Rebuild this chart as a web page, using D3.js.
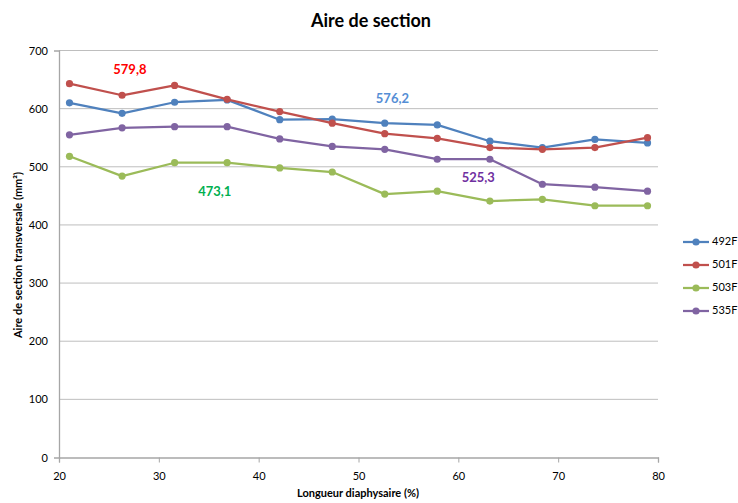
<!DOCTYPE html>
<html><head><meta charset="utf-8">
<script src="https://cdn.jsdelivr.net/npm/d3@7/dist/d3.min.js"></script>
<style>body{margin:0;background:#fff;} text{font-family:Lato,"Open Sans",sans-serif;}</style>
</head><body>
<script>
const xValues = [21.05, 26.32, 31.58, 36.84, 42.11, 47.37, 52.63, 57.89, 63.16, 68.42, 73.68, 78.95];
const s492F = [610, 592, 611, 615, 581, 582, 575, 572, 544, 533, 547, 541];
const s501F = [643, 623, 640, 616, 595, 575, 557, 549, 533, 530, 533, 550];
const s503F = [518, 484, 507, 507, 498, 491, 453, 458, 441, 444, 433, 433];
const s535F = [555, 567, 569, 569, 548, 535, 530, 513, 513, 470, 465, 458];
const seriesNames = ["492F", "501F", "503F", "535F"];
const seriesColors = ["#4F81BD", "#C0504D", "#9BBB59", "#8064A2"];
const xTicks = [20, 30, 40, 50, 60, 70, 80];
const yTicks = [0, 100, 200, 300, 400, 500, 600, 700];
const annotations = [
  {text: "579,8", x: 27.1, y: 666, color: "#FF0000"},
  {text: "473,1", x: 35.6, y: 455, color: "#00B050"},
  {text: "576,2", x: 53.4, y: 616, color: "#558ED5"},
  {text: "525,3", x: 62.0, y: 480, color: "#7030A0"}
];

const W = 738, H = 503;
const L = 59, R = 658, T = 50.5, B = 457.5;
const svg = d3.select("body").append("svg").attr("width", W).attr("height", H);
const x = d3.scaleLinear().domain([20, 80]).range([L, R]);
const y = d3.scaleLinear().domain([0, 700]).range([B, T]);

// gridlines
svg.append("g").selectAll("line").data(yTicks.filter(d => d > 0)).join("line")
  .attr("x1", L).attr("x2", R).attr("y1", d => y(d)).attr("y2", d => y(d))
  .attr("stroke", "#BEBEBE").attr("stroke-width", 1);

// axes
const xAxis = svg.append("g").attr("transform", `translate(0,${B})`)
  .call(d3.axisBottom(x).tickValues(xTicks).tickSize(5).tickFormat(d3.format("d")));
const yAxis = svg.append("g").attr("transform", `translate(${L},0)`)
  .call(d3.axisLeft(y).tickValues(yTicks).tickSize(5).tickFormat(d3.format("d")));
[xAxis, yAxis].forEach(a => {
  a.select(".domain").attr("stroke", "#A6A6A6").attr("stroke-width", 1.3);
  a.selectAll(".tick line").attr("stroke", "#A6A6A6");
  a.selectAll(".tick text").attr("font-size", 11).attr("fill", "#000").attr("font-family", "Lato, 'Open Sans', sans-serif");
});
xAxis.selectAll(".tick text").attr("dy", "1.3em");
yAxis.selectAll(".tick line").remove();
yAxis.selectAll(".tick text").attr("x", -11);

// series
const allSeries = [s492F, s501F, s503F, s535F];
const line = d3.line().x((d, i) => x(xValues[i])).y(d => y(d));
allSeries.forEach((s, k) => {
  const g = svg.append("g");
  g.append("path").datum(s).attr("d", line).attr("fill", "none")
    .attr("stroke", seriesColors[k]).attr("stroke-width", 2.25).attr("stroke-linejoin", "round");
  g.selectAll("circle").data(s).join("circle")
    .attr("cx", (d, i) => x(xValues[i])).attr("cy", d => y(d)).attr("r", 3.6)
    .attr("fill", seriesColors[k]);
});

// annotations
svg.append("g").selectAll("text").data(annotations).join("text")
  .attr("x", d => x(d.x)).attr("y", d => y(d.y)).attr("text-anchor", "middle")
  .attr("dominant-baseline", "middle")
  .attr("font-size", 13).attr("font-weight", "bold").attr("fill", d => d.color)
  .text(d => d.text);

// title
svg.append("text").attr("x", 371).attr("y", 27).attr("text-anchor", "middle")
  .attr("font-size", 18).attr("font-weight", "bold").text("Aire de section");
svg.append("text").attr("x", 358).attr("y", 497).attr("text-anchor", "middle")
  .attr("font-size", 11).attr("font-weight", "bold").text("Longueur diaphysaire (%)");
svg.append("text").attr("transform", "translate(22,255) rotate(-90)").attr("text-anchor", "middle")
  .attr("font-size", 11).attr("font-weight", "bold").text("Aire de section transversale (mm²)");

// legend
const lg = svg.append("g");
seriesNames.forEach((n, k) => {
  const yy = 242 + k * 23;
  lg.append("line").attr("x1", 683).attr("x2", 709).attr("y1", yy).attr("y2", yy)
    .attr("stroke", seriesColors[k]).attr("stroke-width", 2.25);
  lg.append("circle").attr("cx", 696).attr("cy", yy).attr("r", 3.6).attr("fill", seriesColors[k]);
  lg.append("text").attr("x", 712).attr("y", yy).attr("dominant-baseline", "middle")
    .attr("font-size", 11).text(n);
});
</script>
</body></html>
